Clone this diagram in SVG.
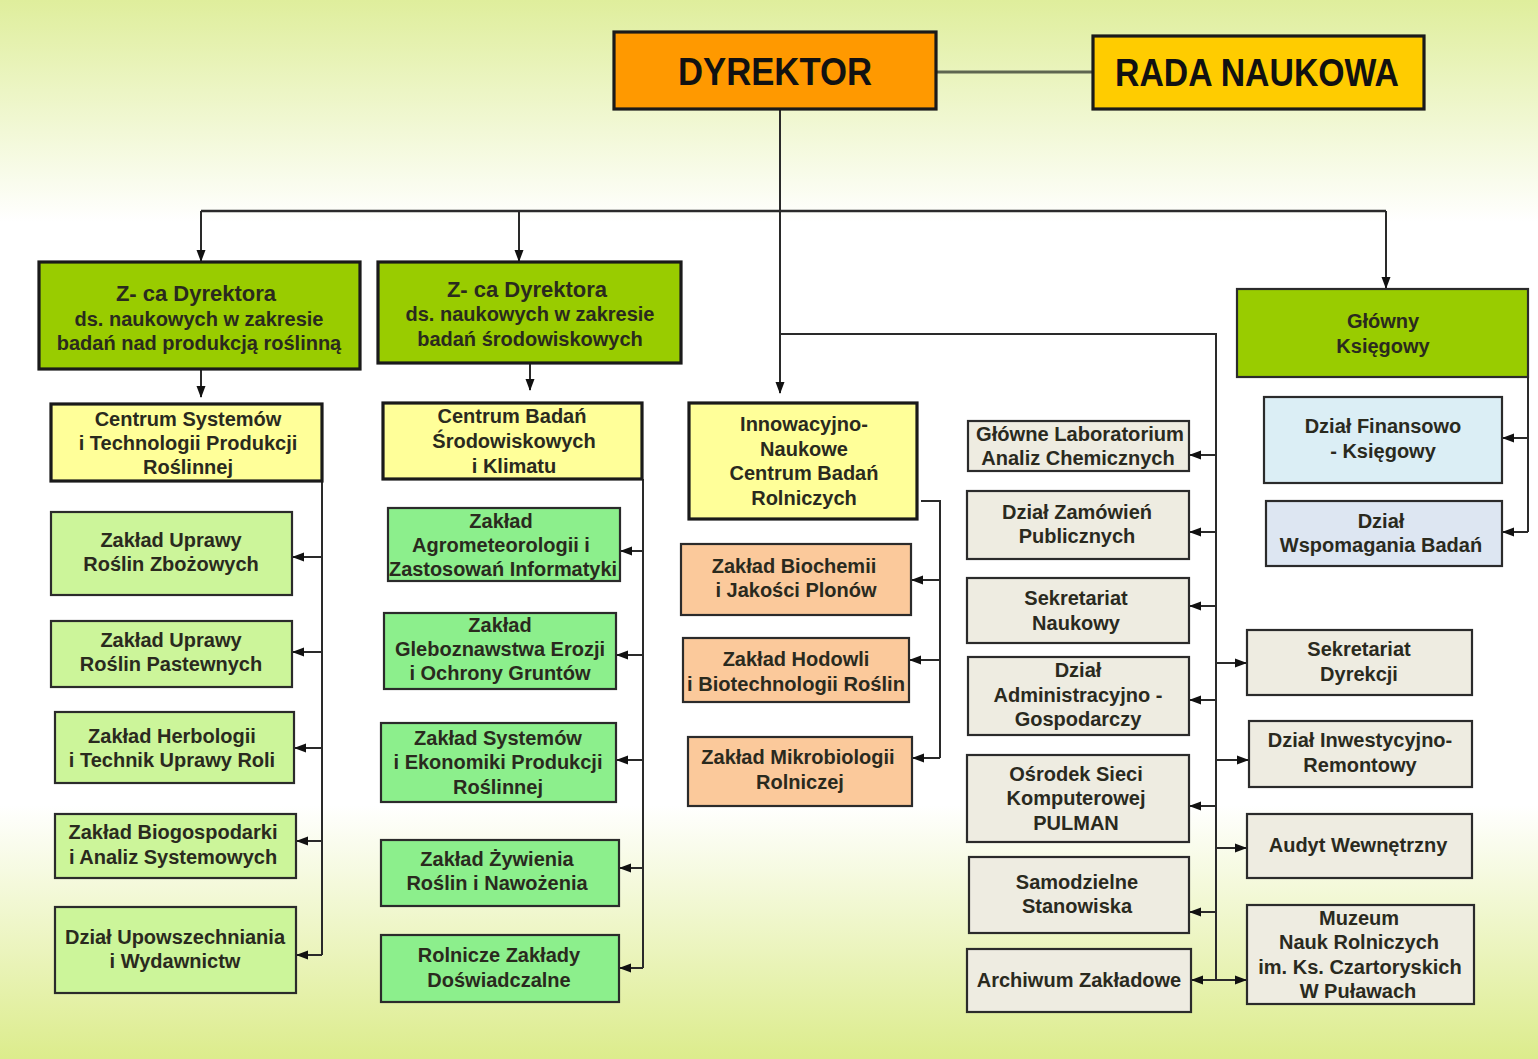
<svg xmlns="http://www.w3.org/2000/svg" width="1538" height="1059" viewBox="0 0 1538 1059">
<defs>
<linearGradient id="bg" x1="0" y1="0" x2="0" y2="1">
<stop offset="0" stop-color="#dfee9c"/>
<stop offset="0.21" stop-color="#ffffff"/>
<stop offset="0.76" stop-color="#ffffff"/>
<stop offset="1" stop-color="#dcec8c"/>
</linearGradient>
<marker id="ah" markerWidth="12" markerHeight="10" refX="11" refY="5" orient="auto" markerUnits="userSpaceOnUse">
<path d="M0,0.5 L12,5 L0,9.5 z" fill="#111"/>
</marker>
<style>
.n rect{stroke:#2b2b2b;stroke-width:2.2}
.thick rect{stroke:#1a1a1a;stroke-width:3.2}
.t{font-family:"Liberation Sans",Arial,sans-serif;font-weight:bold;font-size:20px;fill:#2a2a1e;text-anchor:middle}
.big{font-size:38px;fill:#111}
.zc{font-size:22px}
.c{fill:none;stroke:#2a2a2a;stroke-width:2}
.a{marker-end:url(#ah)}
.orange{fill:#ff9900}.gold{fill:#ffcc00}.lime{fill:#99cc00}.yel{fill:#ffff99}
.lg{fill:#ccf59a}.mg{fill:#8cef8c}.pe{fill:#fbc99b}.be{fill:#eeece1}.bl1{fill:#dbeef5}.bl2{fill:#dde6f2}
</style>
</defs>
<rect x="0" y="0" width="1538" height="1059" fill="url(#bg)"/>

<g id="connectors">
<path class="c" d="M936,72 H1093" style="stroke:#5e6650;stroke-width:3"/>
<path class="c a" d="M780,109 V393"/>
<path class="c" d="M201,211 H1386" style="stroke-width:2.5"/>
<path class="c a" d="M201,211 V261"/>
<path class="c a" d="M519,211 V261"/>
<path class="c a" d="M1386,211 V288"/>
<path class="c a" d="M201,369 V397"/>
<path class="c a" d="M530,363 V390"/>
<path class="c" d="M322,481 V955"/>
<path class="c a" d="M322,557 H293"/>
<path class="c a" d="M322,652 H293"/>
<path class="c a" d="M322,748 H295"/>
<path class="c a" d="M322,841 H297"/>
<path class="c a" d="M322,955 H297"/>
<path class="c" d="M643,479 V968"/>
<path class="c a" d="M643,551 H621"/>
<path class="c a" d="M643,655 H617"/>
<path class="c a" d="M643,760 H617"/>
<path class="c a" d="M643,868 H620"/>
<path class="c a" d="M643,968 H620"/>
<path class="c" d="M921,501 H940 V758"/>
<path class="c a" d="M940,580 H912"/>
<path class="c a" d="M940,660 H910"/>
<path class="c a" d="M940,758 H913"/>
<path class="c" d="M780,334 H1216 V980"/>
<path class="c a" d="M1216,455 H1190"/>
<path class="c a" d="M1216,532 H1190"/>
<path class="c a" d="M1216,606 H1190"/>
<path class="c a" d="M1216,700 H1190"/>
<path class="c a" d="M1216,806 H1190"/>
<path class="c a" d="M1216,912 H1190"/>
<path class="c a" d="M1216,980 H1192"/>
<path class="c a" d="M1216,663 H1246"/>
<path class="c a" d="M1216,760 H1248"/>
<path class="c a" d="M1216,848 H1246"/>
<path class="c a" d="M1216,980 H1246"/>
<path class="c" d="M1528,377 V532"/>
<path class="c a" d="M1528,438 H1503"/>
<path class="c a" d="M1528,532 H1503"/>
</g>

<g id="dyrektor" class="n thick"><rect class="orange" x="614" y="32" width="322" height="77"/>
<text class="t big" x="775" y="85" textLength="194" lengthAdjust="spacingAndGlyphs">DYREKTOR</text></g>
<g id="rada" class="n thick"><rect class="gold" x="1093" y="36" width="331" height="73"/>
<text class="t big" x="1257" y="86" textLength="284" lengthAdjust="spacingAndGlyphs">RADA NAUKOWA</text></g>

<g id="zca1" class="n thick"><rect class="lime" x="39" y="262" width="321" height="107"/>
<text class="t zc" x="196" y="301">Z- ca Dyrektora</text>
<text class="t" x="199" y="326">ds. naukowych w zakresie</text>
<text class="t" x="199" y="350">badań nad produkcją roślinną</text></g>
<g id="zca2" class="n thick"><rect class="lime" x="378" y="262" width="303" height="101"/>
<text class="t zc" x="527" y="297">Z- ca Dyrektora</text>
<text class="t" x="530" y="321">ds. naukowych w zakresie</text>
<text class="t" x="530" y="346">badań środowiskowych</text></g>

<g id="centrum1" class="n thick"><rect class="yel" x="51" y="404" width="271" height="77"/>
<text class="t" x="188" y="426">Centrum Systemów</text>
<text class="t" x="188" y="450">i Technologii Produkcji</text>
<text class="t" x="188" y="474">Roślinnej</text></g>
<g id="centrum2" class="n thick"><rect class="yel" x="383" y="403" width="259" height="76"/>
<text class="t" x="512" y="423">Centrum Badań</text>
<text class="t" x="514" y="448">Środowiskowych</text>
<text class="t" x="514" y="473">i Klimatu</text></g>
<g id="innow" class="n thick"><rect class="yel" x="689" y="403" width="228" height="116"/>
<text class="t" x="804" y="431">Innowacyjno-</text>
<text class="t" x="804" y="456">Naukowe</text>
<text class="t" x="804" y="480">Centrum  Badań</text>
<text class="t" x="804" y="505">Rolniczych</text></g>

<g id="zboz" class="n"><rect class="lg" x="51" y="512" width="241" height="83"/>
<text class="t" x="171" y="547">Zakład Uprawy</text><text class="t" x="171" y="571">Roślin Zbożowych</text></g>
<g id="past" class="n"><rect class="lg" x="51" y="621" width="241" height="66"/>
<text class="t" x="171" y="647">Zakład Uprawy</text><text class="t" x="171" y="671">Roślin Pastewnych</text></g>
<g id="herb" class="n"><rect class="lg" x="55" y="712" width="239" height="71"/>
<text class="t" x="172" y="743">Zakład Herbologii</text><text class="t" x="172" y="767">i Technik Uprawy Roli</text></g>
<g id="biog" class="n"><rect class="lg" x="55" y="814" width="241" height="64"/>
<text class="t" x="173" y="839">Zakład Biogospodarki</text><text class="t" x="173" y="864">i Analiz Systemowych</text></g>
<g id="upow" class="n"><rect class="lg" x="55" y="907" width="241" height="86"/>
<text class="t" x="175" y="944">Dział Upowszechniania</text><text class="t" x="175" y="968">i Wydawnictw</text></g>

<g id="agro" class="n"><rect class="mg" x="388" y="508" width="232" height="73"/>
<text class="t" x="501" y="528">Zakład</text><text class="t" x="501" y="552">Agrometeorologii i</text><text class="t" x="503" y="576" textLength="228" lengthAdjust="spacingAndGlyphs">Zastosowań Informatyki</text></g>
<g id="gleb" class="n"><rect class="mg" x="384" y="613" width="232" height="76"/>
<text class="t" x="500" y="632">Zakład</text><text class="t" x="500" y="656">Gleboznawstwa Erozji</text><text class="t" x="500" y="680">i Ochrony Gruntów</text></g>
<g id="syst" class="n"><rect class="mg" x="381" y="723" width="235" height="79"/>
<text class="t" x="498" y="745">Zakład Systemów</text><text class="t" x="498" y="769">i Ekonomiki Produkcji</text><text class="t" x="498" y="794">Roślinnej</text></g>
<g id="zyw" class="n"><rect class="mg" x="381" y="840" width="238" height="66"/>
<text class="t" x="497" y="866">Zakład Żywienia</text><text class="t" x="497" y="890">Roślin i Nawożenia</text></g>
<g id="rzd" class="n"><rect class="mg" x="381" y="935" width="238" height="67"/>
<text class="t" x="499" y="962">Rolnicze Zakłady</text><text class="t" x="499" y="987">Doświadczalne</text></g>

<g id="bioch" class="n"><rect class="pe" x="681" y="544" width="230" height="71"/>
<text class="t" x="794" y="573">Zakład Biochemii</text><text class="t" x="796" y="597">i Jakości Plonów</text></g>
<g id="hodow" class="n"><rect class="pe" x="683" y="638" width="226" height="64"/>
<text class="t" x="796" y="666">Zakład Hodowli</text><text class="t" x="796" y="691" textLength="218" lengthAdjust="spacingAndGlyphs">i Biotechnologii Roślin</text></g>
<g id="mikro" class="n"><rect class="pe" x="688" y="737" width="224" height="69"/>
<text class="t" x="798" y="764">Zakład Mikrobiologii</text><text class="t" x="800" y="789">Rolniczej</text></g>

<g id="glab" class="n"><rect class="be" x="968" y="421" width="221" height="50"/>
<text class="t" x="1080" y="441" textLength="208" lengthAdjust="spacingAndGlyphs">Główne Laboratorium</text><text class="t" x="1078" y="465">Analiz Chemicznych</text></g>
<g id="zamow" class="n"><rect class="be" x="967" y="491" width="222" height="68"/>
<text class="t" x="1077" y="519">Dział Zamówień</text><text class="t" x="1077" y="543">Publicznych</text></g>
<g id="seknauk" class="n"><rect class="be" x="967" y="578" width="222" height="65"/>
<text class="t" x="1076" y="605">Sekretariat</text><text class="t" x="1076" y="630">Naukowy</text></g>
<g id="admin" class="n"><rect class="be" x="968" y="657" width="221" height="78"/>
<text class="t" x="1078" y="677">Dział</text><text class="t" x="1078" y="702">Administracyjno -</text><text class="t" x="1078" y="726">Gospodarczy</text></g>
<g id="pulman" class="n"><rect class="be" x="967" y="755" width="222" height="87"/>
<text class="t" x="1076" y="781">Ośrodek Sieci</text><text class="t" x="1076" y="805">Komputerowej</text><text class="t" x="1076" y="830">PULMAN</text></g>
<g id="samodz" class="n"><rect class="be" x="969" y="857" width="220" height="76"/>
<text class="t" x="1077" y="889">Samodzielne</text><text class="t" x="1077" y="913">Stanowiska</text></g>
<g id="archiw" class="n"><rect class="be" x="967" y="949" width="224" height="63"/>
<text class="t" x="1079" y="987">Archiwum Zakładowe</text></g>

<g id="ksieg" class="n"><rect class="lime" x="1237" y="289" width="291" height="88"/>
<text class="t" x="1383" y="328">Główny</text><text class="t" x="1383" y="353">Księgowy</text></g>
<g id="finans" class="n"><rect class="bl1" x="1264" y="397" width="238" height="86"/>
<text class="t" x="1383" y="433">Dział Finansowo</text><text class="t" x="1383" y="458">- Księgowy</text></g>
<g id="wspom" class="n"><rect class="bl2" x="1266" y="501" width="236" height="65"/>
<text class="t" x="1381" y="528">Dział</text><text class="t" x="1381" y="552">Wspomagania Badań</text></g>

<g id="sekdyr" class="n"><rect class="be" x="1247" y="630" width="225" height="65"/>
<text class="t" x="1359" y="656">Sekretariat</text><text class="t" x="1359" y="681">Dyrekcji</text></g>
<g id="inwest" class="n"><rect class="be" x="1249" y="721" width="223" height="66"/>
<text class="t" x="1360" y="747">Dział Inwestycyjno-</text><text class="t" x="1360" y="772">Remontowy</text></g>
<g id="audyt" class="n"><rect class="be" x="1247" y="814" width="225" height="64"/>
<text class="t" x="1358" y="852">Audyt Wewnętrzny</text></g>
<g id="muzeum" class="n"><rect class="be" x="1247" y="905" width="227" height="99"/>
<text class="t" x="1359" y="925">Muzeum</text><text class="t" x="1359" y="949">Nauk Rolniczych</text><text class="t" x="1360" y="974">im. Ks. Czartoryskich</text><text class="t" x="1358" y="998">W Puławach</text></g>
</svg>
